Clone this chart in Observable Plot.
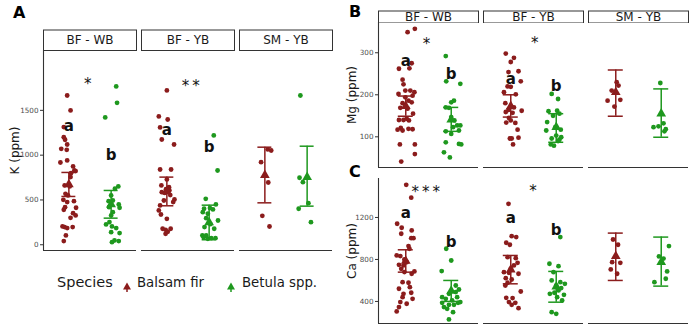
<!DOCTYPE html>
<html>
<head>
<meta charset="utf-8">
<script src="https://cdn.jsdelivr.net/npm/d3@7"></script>
<script src="https://cdn.jsdelivr.net/npm/@observablehq/plot@0.6"></script>
<style>
  html, body { margin: 0; padding: 0; background: #fff; }
  #fig { position: relative; width: 690px; height: 330px; font-family: "DejaVu Sans", sans-serif; overflow: hidden; }
  #fig > svg, #fig > .abs { position: absolute; }
  .tag { font-weight: bold; font-size: 16px; line-height: 16px; color: #000; }
  [aria-label="y-axis tick label"] { fill: #4d4d4d; }
  [aria-label="y-axis label"] { fill: #1a1a1a; font-size: 12px; }
  .legend span { position: absolute; white-space: nowrap; color: #1a1a1a; }
</style>
</head>
<body>
<div id="fig"></div>
<script>
// Sites (facets) and species
const sites = ["BF - WB", "BF - YB", "SM - YB"];
const species = ["Balsam fir", "Betula spp."];
const colors = ["#8b1c1c", "#1e981e"];
const groupLetters = ["a", "b"];

// ---- K (ppm) ----
const kFirWB = [1666,1499,1313,1201,1172,1119,1071,1060,918,941,874,829,822,799,755,662,651,569,551,502,476,487,420,391,413,353,327,301,205,197,186,197,104,41];
const kBirWB = [1767,1584,1421,651,625,550,487,494,450,413,420,364,327,253,227,205,186,130,141,29,48,41];
const kFirYB = [1722,1432,1398,1309,1175,1119,840,840,729,662,643,587,579,606,506,494,476,439,383,338,290,179,167,179,122,145,555,620];
const kBirYB = [1220,829,513,450,409,402,364,394,346,297,271,197,179,104,85,67,74,74,104,230];
const kFirSM = [1064,1052,922,695,323,204];
const kBirSM = [1666,748,699,464,402,252];
const kMean = [673, 450, 595, 249, 777, 755];
const kLow  = [539, 297, 435, 56, 468, 431];
const kHigh = [807, 606, 755, 442, 1089, 1100];
const kLetterY = [1320, 997, 1275, 1085];
const kStars = ["*", "**"];
const kStarX = [1.48, 1.6];
const kStarY = [1822, 1800];
const kTicks = [0, 500, 1000, 1500];

// ---- Mg (ppm) ----
const mgFirWB = [349,357,275,262,263,236,225,202,206,198,194,186,180,182,167,169,155,139,140,140,121,119,118,115,82,82,59,41,117,210,210,143];
const mgBirWB = [292,232,226,186,182,170,169,147,139,127,127,123,115,113,107,87,83,63,51,82];
const mgFirYB = [298,288,278,254,256,232,220,219,206,201,180,170,164,162,159,139,134,133,117,98,96,96,82,157,145];
const mgBirYB = [202,190,161,162,155,135,150,123,117,115,103,99,96,93,82,79,90];
const mgFirSM = [230,222,210,186,188,172];
const mgBirSM = [228,123,132,113,125,118];
const mgMean = [173, 141, 173, 123, 206, 155];
const mgLow  = [149, 113, 147, 87, 149, 99];
const mgHigh = [197, 170, 200, 155, 259, 214];
const mgLetterY = [279, 248, 236, 220];
const mgStars = ["*", "*"];
const mgStarX = [1.49, 1.56];
const mgStarY = [328, 329];
const mgTicks = [100, 200, 300];

// ---- Ca (ppm) ----
const caFirWB = [1511,1388,1140,1102,1076,1045,1003,1003,927,902,838,832,800,774,749,743,711,686,664,680,584,578,536,521,483,473,441,425,394,378,346,305,774];
const caBirWB = [902,790,689,514,489,473,441,425,410,387,387,368,368,346,330,298,229,394,552,441];
const caFirYB = [1330,1022,1013,959,940,822,812,768,743,679,673,664,622,609,578,552,495,435,432,394,387,368,336,711];
const caBirYB = [1013,759,736,679,600,568,552,527,505,473,483,463,441,410,298,282,584];
const caFirSM = [990,940,774,768,705,664];
const caBirSM = [927,829,808,686,616,584];
const caMean = [785, 500, 703, 540, 831, 774];
const caLow  = [679, 400, 568, 393, 600, 546];
const caHigh = [892, 600, 838, 686, 1051, 1013];
const caLetterY = [1245, 965, 1197, 1076];
const caStars = ["***", "*"];
const caStarX = [1.47, 1.52];
const caStarY = [1473, 1479];
const caTicks = [400, 800, 1200];

// Horizontal jitter of the individual trees (x units, around each species slot)
const kJit = [
  [-0.04,0.04,-0.12,-0.12,-0.09,-0.04,-0.18,-0.05,-0.2,-0.04,0.1,0.13,0.16,0.05,0.04,-0.1,0.02,-0.08,-0.02,-0.13,-0.04,0.12,-0.09,-0.12,0.17,0.1,0.16,0.04,-0.15,-0.1,-0.04,0.09,-0.07,-0.12],
  [0.12,0.14,-0.14,0.17,0.09,0,-0.06,0.04,0.18,0.2,-0.05,0.04,0,-0.04,-0.12,0.02,0.12,0.2,0,0.02,0.08,0.18],
  [0,-0.19,0.02,-0.16,-0.12,0.17,-0.16,0.1,0,-0.13,0.05,-0.12,-0.05,0.06,0.18,-0.07,0.15,-0.16,-0.19,-0.14,0,-0.1,-0.03,0.09,-0.03,0.02,0.08,-0.02],
  [0.11,0.2,-0.08,0.16,0.02,-0.12,-0.15,0.09,-0.03,-0.07,0.21,-0.11,0.12,-0.16,-0.13,-0.03,0.15,0.05,-0.07,0.03],
  [0.07,0.15,-0.09,0.08,-0.06,0.11],
  [-0.16,-0.18,-0.1,0.03,-0.2,0.09]
];
const mgJit = [
  [0.04,0.2,0.13,-0.15,0.08,-0.07,-0.05,-0.16,0.19,0.15,-0.01,0.06,-0.07,0.13,0.04,-0.12,0.16,0.07,-0.15,-0.05,-0.11,0.06,0.15,-0.07,-0.13,0.2,0.2,-0.1,-0.18,-0.01,0.1,0.02],
  [-0.12,-0.11,0.2,0.06,0,-0.12,-0.05,0,0.07,0.13,0.2,0.04,0.17,-0.12,0,-0.12,0.17,-0.16,-0.03,0.22],
  [-0.11,0.07,0,-0.05,0.17,0.22,-0.07,0,-0.15,0.11,-0.12,0.07,-0.05,0.24,-0.11,0,-0.1,0.1,0.15,0.17,-0.02,0.02,0.05,0.04,-0.04],
  [-0.1,0.04,-0.17,0.02,0.07,-0.2,-0.07,-0.02,0.1,-0.22,0,0.11,-0.1,0.07,-0.12,-0.05,0.04],
  [0.02,0.06,-0.09,-0.18,0.1,-0.03],
  [-0.02,-0.17,0.05,0.07,-0.06,0.1]
];
const caJit = [
  [0.01,0.12,-0.19,-0.09,0.13,-0.1,0.12,0.17,0.06,0.08,-0.2,-0.12,-0.03,0.02,-0.15,-0.05,-0.1,0.19,0.13,-0.03,-0.07,0.06,0.09,-0.15,0.12,-0.05,-0.07,0.15,-0.12,0.02,-0.15,-0.2,0],
  [-0.11,0,-0.21,0.17,0.1,-0.05,0.13,-0.12,0.02,-0.2,0.15,-0.05,0.06,-0.16,-0.09,0.04,-0.05,0.2,0.1,-0.2],
  [-0.05,0.02,0.12,-0.1,-0.02,-0.07,0.11,0.15,0.07,-0.15,-0.04,0.17,-0.11,0.02,-0.07,-0.12,0.22,-0.1,0.04,-0.04,0.1,0.02,0.17,0],
  [0.09,-0.15,0.05,-0.06,-0.1,0.19,0,0.11,0.05,-0.14,-0.04,0.17,0.02,0.13,-0.1,0,0.09],
  [-0.06,0.05,-0.08,0.1,-0.11,0.03],
  [0.17,-0.05,0.05,0.13,0.1,-0.15]
];

// site x species combinations, in the order of the arrays above
const groups = sites.flatMap(site => species.map((sp, s) => ({site, sp, pos: s + 1})));

const FONT = "DejaVu Sans, sans-serif";
const fig = document.getElementById("fig");

function place(node, left, top) {
  node.style.left = left + "px";
  node.style.top = top + "px";
  fig.appendChild(node);
}

function panel(o) {
  const rows = groups.flatMap((g, i) => o.vals[i].map((v, j) => ({...g, v, jit: o.jits[i][j]})));
  const summ = groups.map((g, i) => ({...g, mean: o.means[i], lo: o.lows[i], hi: o.highs[i]}));
  const letters = groups.slice(0, 4).map((g, i) => ({...g, y: o.letterY[i], text: groupLetters[i % 2]}));
  const stars = o.stars.map((t, i) => ({site: sites[i], text: t, x: o.starX[i], y: o.starY[i]}));
  const cap = 0.165;
  const svg = Plot.plot({
    width: o.width, height: o.height,
    marginLeft: o.marginLeft, marginRight: o.marginRight, marginTop: 5, marginBottom: 5,
    style: {fontFamily: FONT, fontSize: "7.2px", color: "#333", background: "transparent", overflow: "visible"},
    fx: {domain: sites, paddingInner: 0.05, paddingOuter: 0, axis: null, label: null},
    x: {domain: [0.4, 2.6], axis: null},
    y: {domain: o.yDomain, ticks: o.ticks, tickFormat: d => String(d), tickSize: 3, tickPadding: 2,
        label: o.label, labelAnchor: "center", labelArrow: "none", labelOffset: o.labelOffset},
    color: {domain: species, range: colors},
    marks: [
      Plot.ruleY([o.yDomain[0]], {stroke: "#333", strokeWidth: 1.1}),
      Plot.ruleX([0.4], {fx: () => sites[0], stroke: "#333", strokeWidth: 1.1}),
      Plot.dot(rows, {fx: "site", x: d => d.pos + d.jit, y: "v", fill: "sp", r: 2.4}),
      Plot.ruleX(summ, {fx: "site", x: "pos", y1: "lo", y2: "hi", stroke: "sp", strokeWidth: 1.5}),
      Plot.ruleY(summ, {fx: "site", x1: d => d.pos - cap, x2: d => d.pos + cap, y: "lo", stroke: "sp", strokeWidth: 1.5}),
      Plot.ruleY(summ, {fx: "site", x1: d => d.pos - cap, x2: d => d.pos + cap, y: "hi", stroke: "sp", strokeWidth: 1.5}),
      Plot.dot(summ, {fx: "site", x: "pos", y: "mean", symbol: "triangle", fill: "sp", r: 3.6}),
      Plot.text(letters, {fx: "site", x: "pos", y: "y", text: "text", fontWeight: "bold", fontSize: 15, fill: "#111"}),
      Plot.text(stars, {fx: "site", x: "x", y: "y", text: "text", fontSize: 15, fill: "#111", dy: 3})
    ]
  });
  d3.select(svg).selectAll("text").filter(function() { return /^\*+$/.test(this.textContent); })
    .attr("letter-spacing", "3px");
  return svg;
}

function strip(o) {
  return Plot.plot({
    width: o.width, height: o.height,
    marginLeft: o.marginLeft, marginRight: o.marginRight, marginTop: 0.5, marginBottom: 0.5,
    style: {fontFamily: FONT, background: "transparent"},
    fx: {domain: sites, paddingInner: 0.05, paddingOuter: 0, axis: null, label: null},
    marks: [
      Plot.frame({fill: "white", stroke: "#333", strokeWidth: 1}),
      Plot.text(sites, {fx: d => d, text: d => d, frameAnchor: "middle", fontSize: 12, fill: "#1a1a1a"})
    ]
  });
}

// Panel A: K
place(panel({vals: [kFirWB, kBirWB, kFirYB, kBirYB, kFirSM, kBirSM], jits: kJit,
  means: kMean, lows: kLow, highs: kHigh, letterY: kLetterY, stars: kStars, starX: kStarX, starY: kStarY,
  yDomain: [-64, 2168], ticks: kTicks, label: "K (ppm)", labelOffset: 33,
  width: 340, height: 210, marginLeft: 42, marginRight: 6}), 0, 45);
place(strip({width: 340, height: 21.5, marginLeft: 42, marginRight: 6}), 0, 29);

// Panel B: Mg
place(panel({vals: [mgFirWB, mgBirWB, mgFirYB, mgBirYB, mgFirSM, mgBirSM], jits: mgJit,
  means: mgMean, lows: mgLow, highs: mgHigh, letterY: mgLetterY, stars: mgStars, starX: mgStarX, starY: mgStarY,
  yDomain: [27, 372], ticks: mgTicks, label: "Mg (ppm)", labelOffset: 31,
  width: 345, height: 155, marginLeft: 33, marginRight: 2}), 345, 17);
place(strip({width: 345, height: 13, marginLeft: 33, marginRight: 2}), 345, 9.5);

// Panel C: Ca
place(panel({vals: [caFirWB, caBirWB, caFirYB, caBirYB, caFirSM, caBirSM], jits: caJit,
  means: caMean, lows: caLow, highs: caHigh, letterY: caLetterY, stars: caStars, starX: caStarX, starY: caStarY,
  yDomain: [190, 1571], ticks: caTicks, label: "Ca (ppm)", labelOffset: 31,
  width: 345, height: 155, marginLeft: 33, marginRight: 2}), 345, 173);

// Panel tags
[["A", 13, 5], ["B", 349, 4], ["C", 349, 164]].forEach(([t, x, y]) => {
  const d = document.createElement("div");
  d.className = "abs tag";
  d.textContent = t;
  place(d, x, y);
});

// Legend
const legend = document.createElement("div");
legend.className = "abs legend";
legend.style.width = "340px";
legend.style.height = "24px";
function key(color) {
  const ns = "http://www.w3.org/2000/svg";
  const s = document.createElementNS(ns, "svg");
  s.setAttribute("width", 10); s.setAttribute("height", 12);
  const l = document.createElementNS(ns, "line");
  l.setAttribute("x1", 5); l.setAttribute("x2", 5); l.setAttribute("y1", 4); l.setAttribute("y2", 11);
  l.setAttribute("stroke", color); l.setAttribute("stroke-width", 1.5);
  const p = document.createElementNS(ns, "polygon");
  p.setAttribute("points", "5,1.5 9,8.5 1,8.5");
  p.setAttribute("fill", color);
  s.appendChild(l); s.appendChild(p);
  return s;
}
const title = document.createElement("span");
title.textContent = "Species";
title.style.cssText = "left:0px;top:1px;font-size:14.5px;";
legend.appendChild(title);
const keyPos = [[65, 80], [169, 185]];
species.forEach((sp, i) => {
  const k = document.createElement("span");
  k.style.cssText = `left:${keyPos[i][0]}px;top:5px;`;
  k.appendChild(key(colors[i]));
  legend.appendChild(k);
  const t = document.createElement("span");
  t.textContent = sp;
  t.style.cssText = `left:${keyPos[i][1]}px;top:2px;font-size:13.3px;`;
  legend.appendChild(t);
});
place(legend, 57, 273);
</script>
</body>
</html>
